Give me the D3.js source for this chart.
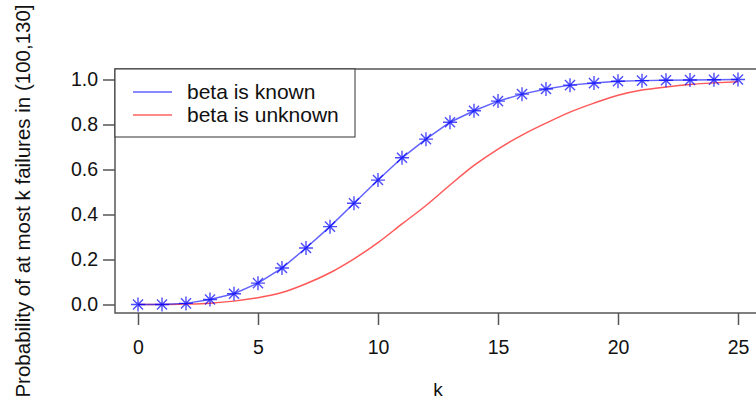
<!DOCTYPE html>
<html>
<head>
<meta charset="utf-8">
<script src="https://cdn.jsdelivr.net/npm/d3@7"></script>
<style>
  body { margin: 0; background: #fff; }
  text { font-family: Arial, "Liberation Sans", sans-serif; fill: #111; }
</style>
</head>
<body>
<svg id="my_svg"></svg>
<script>
const width = 756;
const height = 402;

// k = 0..25
const kValues = d3.range(0, 26);
const knownValues = [0, 0, 0.005, 0.022, 0.048, 0.095, 0.162, 0.251, 0.346, 0.45,
  0.553, 0.652, 0.735, 0.81, 0.861, 0.904, 0.935, 0.958, 0.975, 0.984,
  0.992, 0.995, 0.997, 0.998, 0.999, 1.0];
const unknownValues = [0, 0, 0.002, 0.006, 0.015, 0.03, 0.053, 0.092, 0.141, 0.203,
  0.275, 0.358, 0.44, 0.531, 0.618, 0.691, 0.753, 0.806, 0.855, 0.895,
  0.93, 0.953, 0.967, 0.978, 0.985, 0.99];
const xTicks = [0, 5, 10, 15, 20, 25];
const yTicks = [0, 0.2, 0.4, 0.6, 0.8, 1.0];
const seriesNames = ['beta is known', 'beta is unknown'];

const svg = d3.select('#my_svg')
  .attr('width', width)
  .attr('height', height);

// plot frame (right side is cut off in the original)
const frame = { left: 115, top: 69, bottom: 313, right: 760 };

const xScale = d3.scaleLinear().domain([0, 25]).range([138, 738]);
const yScale = d3.scaleLinear().domain([0, 1]).range([304.5, 79.5]);

const frameColor = '#555';

// y axis ticks
const yAxis = d3.axisLeft(yScale)
  .tickValues(yTicks)
  .tickFormat(d3.format('.1f'))
  .tickSize(12)
  .tickPadding(5);
const yg = svg.append('g')
  .attr('transform', `translate(${frame.left}, 0)`)
  .call(yAxis);
yg.select('.domain').remove();
yg.selectAll('line').attr('stroke', frameColor).attr('stroke-width', 1.5);
yg.selectAll('text').style('font-size', '19.5px').attr('fill', '#111');

// x axis ticks (hanging below frame)
const xAxis = d3.axisBottom(xScale)
  .tickValues(xTicks)
  .tickSize(12)
  .tickPadding(15);
const xg = svg.append('g')
  .attr('transform', `translate(0, ${frame.bottom})`)
  .call(xAxis);
xg.select('.domain').remove();
xg.selectAll('line').attr('stroke', frameColor).attr('stroke-width', 1.5);
xg.selectAll('text').style('font-size', '19.5px').attr('fill', '#111');

// frame lines
svg.append('path')
  .attr('d', `M${frame.right},${frame.top}H${frame.left}V${frame.bottom}H${frame.right}`)
  .attr('fill', 'none')
  .attr('stroke', frameColor)
  .attr('stroke-width', 1.5);

const plot = svg.append('g');

// red line: beta is unknown
plot.append('path')
  .datum(unknownValues)
  .attr('d', d3.line()
    .x((d, i) => xScale(kValues[i]))
    .y(d => yScale(d))
    .curve(d3.curveMonotoneX))
  .attr('fill', 'none')
  .attr('stroke', '#ff2020')
  .attr('stroke-opacity', 0.75)
  .attr('stroke-width', 1.5);

// blue line: beta is known
plot.append('path')
  .datum(knownValues)
  .attr('d', d3.line().x((d, i) => xScale(kValues[i])).y(d => yScale(d)))
  .attr('fill', 'none')
  .attr('stroke', '#2020ff')
  .attr('stroke-opacity', 0.7)
  .attr('stroke-width', 1.5);

// asterisk markers
const r = 7;
const rd = r * 0.72;
plot.selectAll('path.star')
  .data(knownValues)
  .enter()
  .append('path')
  .attr('class', 'star')
  .attr('d', (d, i) => {
    const x = xScale(kValues[i]);
    const y = yScale(d);
    return `M${x - r},${y}H${x + r}M${x},${y - r}V${y + r}` +
      `M${x - rd},${y - rd}L${x + rd},${y + rd}M${x - rd},${y + rd}L${x + rd},${y - rd}`;
  })
  .attr('fill', 'none')
  .attr('stroke', '#0000ff')
  .attr('stroke-opacity', 0.7)
  .attr('stroke-width', 1.4);

// legend
const legend = svg.append('g').attr('id', 'legend');
legend.append('rect')
  .attr('x', frame.left)
  .attr('y', frame.top)
  .attr('width', 240)
  .attr('height', 68)
  .attr('fill', '#fff')
  .attr('stroke', '#333')
  .attr('stroke-width', 1);
const legendColors = ['#2020ff', '#ff2020'];
seriesNames.forEach((name, i) => {
  const y = 92 + i * 23;
  legend.append('line')
    .attr('x1', 133).attr('x2', 172)
    .attr('y1', y).attr('y2', y)
    .attr('stroke', legendColors[i])
    .attr('stroke-opacity', 0.7)
    .attr('stroke-width', 1.5);
  legend.append('text')
    .attr('x', 187)
    .attr('y', y)
    .attr('dy', '0.35em')
    .style('font-size', '21px')
    .text(name);
});

// axis titles
svg.append('text')
  .attr('x', 438)
  .attr('y', 396)
  .attr('text-anchor', 'middle')
  .style('font-size', '19px')
  .text('k');

svg.append('text')
  .attr('transform', 'translate(30, 201) rotate(-90)')
  .attr('text-anchor', 'middle')
  .style('font-size', '20.5px')
  .text('Probability of at most k failures in (100,130]');
</script>
</body>
</html>
